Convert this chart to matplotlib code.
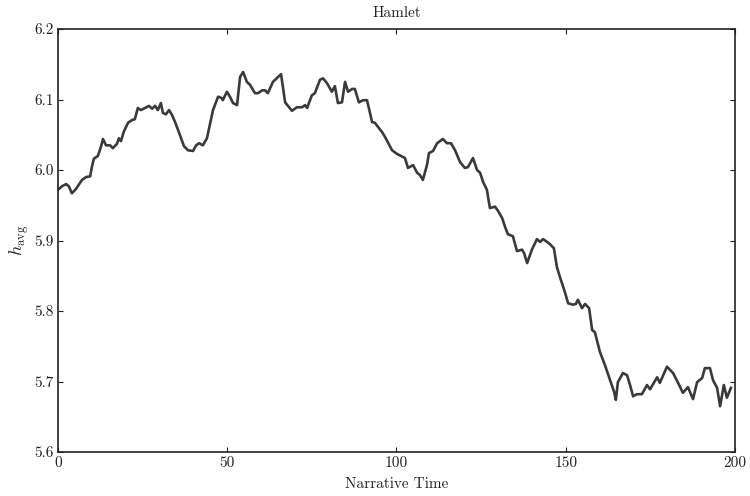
import matplotlib
matplotlib.use("Agg")
import matplotlib.pyplot as plt

plt.rcParams['font.family'] = 'serif'
plt.rcParams['font.serif'] = ['cmr10', 'DejaVu Serif']
plt.rcParams['mathtext.fontset'] = 'cm'
plt.rcParams['axes.formatter.use_mathtext'] = True

title = "Hamlet"
xlabel = "Narrative Time"
ylabel = r"$h_{\rm avg}$"

narrative_time = [
    0, 1.2, 2.4, 3.2, 4.1, 5.3, 7.1, 8.3, 9.5, 10.0, 10.6, 11.8, 12.7, 13.3, 14.2,
    15.4, 16.2, 17.4, 18.0, 18.6, 19.5, 20.7, 21.9, 22.7, 23.6, 24.5, 25.7, 26.9,
    27.8, 28.7, 29.5, 30.4, 31.0, 31.9, 32.8, 33.7, 34.6, 36.0, 37.2, 38.4, 39.9,
    40.8, 41.7, 42.8, 44.0, 45.8, 47.3, 48.4, 48.7, 49.9, 50.8, 51.7, 52.9, 53.8,
    54.7, 55.8, 56.7, 58.2, 59.1, 60.3, 61.2, 62.0, 63.5, 65.0, 65.9, 67.1, 69.1,
    70.6, 72.1, 73.0, 73.6, 75.0, 75.9, 77.4, 78.3, 79.5, 80.9, 81.8, 82.7, 83.9,
    84.8, 85.7, 86.9, 87.7, 88.9, 90.1, 91.3, 92.8, 93.6, 95.7, 96.6, 98.7, 100.1,
    102.5, 103.4, 104.9, 106.1, 106.9, 107.8, 109.0, 109.6, 110.8, 112.0, 113.7,
    114.9, 116.1, 117.3, 118.8, 120.2, 121.1, 122.6, 123.8, 124.7, 125.6, 126.7,
    127.6, 129.1, 130.0, 131.2, 132.1, 132.9, 134.4, 135.6, 137.1, 137.7, 138.6,
    140.0, 141.5, 142.4, 143.3, 144.5, 145.3, 146.5, 147.4, 148.3, 149.8, 150.7,
    152.1, 153.0, 153.6, 154.8, 155.7, 156.9, 157.8, 158.6, 160.1, 161.6, 163.1,
    164.3, 164.8, 165.4, 166.9, 168.1, 169.0, 169.9, 171.0, 172.5, 174.0, 174.9,
    177.0, 177.8, 179.9, 181.7, 183.2, 184.6, 186.1, 187.6, 188.8, 190.3, 191.1,
    192.6, 193.5, 194.7, 195.6, 196.7, 197.6, 198.8,
]

h_avg = [
    5.972, 5.977, 5.980, 5.977, 5.967, 5.973, 5.986, 5.990, 5.991, 6.004, 6.016,
    6.020, 6.033, 6.044, 6.035, 6.035, 6.031, 6.037, 6.045, 6.041, 6.055, 6.067,
    6.071, 6.072, 6.088, 6.085, 6.088, 6.091, 6.087, 6.091, 6.085, 6.095, 6.081,
    6.079, 6.085, 6.078, 6.068, 6.050, 6.034, 6.028, 6.027, 6.035, 6.038, 6.035,
    6.045, 6.085, 6.104, 6.102, 6.099, 6.111, 6.104, 6.095, 6.092, 6.132, 6.139,
    6.125, 6.121, 6.109, 6.109, 6.113, 6.113, 6.109, 6.125, 6.132, 6.136, 6.096,
    6.084, 6.089, 6.089, 6.092, 6.088, 6.106, 6.109, 6.128, 6.130, 6.123, 6.111,
    6.119, 6.095, 6.096, 6.125, 6.111, 6.115, 6.115, 6.096, 6.099, 6.099, 6.068,
    6.067, 6.054, 6.047, 6.028, 6.023, 6.017, 6.003, 6.007, 5.996, 5.993, 5.986,
    6.007, 6.024, 6.027, 6.038, 6.044, 6.038, 6.038, 6.028, 6.011, 6.003, 6.004,
    6.017, 6.000, 5.996, 5.983, 5.972, 5.946, 5.948, 5.942, 5.932, 5.919, 5.909,
    5.906, 5.885, 5.887, 5.882, 5.868, 5.887, 5.902, 5.898, 5.902, 5.898, 5.895,
    5.889, 5.862, 5.848, 5.826, 5.811, 5.809, 5.810, 5.816, 5.804, 5.810, 5.804,
    5.773, 5.770, 5.742, 5.723, 5.702, 5.685, 5.674, 5.699, 5.712, 5.709, 5.695,
    5.679, 5.682, 5.682, 5.695, 5.689, 5.706, 5.698, 5.721, 5.712, 5.698, 5.684,
    5.692, 5.675, 5.699, 5.705, 5.719, 5.719, 5.702, 5.691, 5.665, 5.695, 5.677,
    5.691,
]

x_ticks = [0, 50, 100, 150, 200]
y_ticks = [5.6, 5.7, 5.8, 5.9, 6.0, 6.1, 6.2]
y_tick_labels = ["5.6", "5.7", "5.8", "5.9", "6.0", "6.1", "6.2"]

fig = plt.figure(figsize=(7.5, 4.96), dpi=100)
ax = fig.add_axes([0.0773, 0.0887, 0.9027, 0.8528])

ax.plot(narrative_time, h_avg, color="#3a3a3a", linewidth=1.9)

ax.set_xlim(0, 200)
ax.set_ylim(5.6, 6.2)
ax.set_xticks(x_ticks)
ax.set_xticklabels([str(t) for t in x_ticks])
ax.set_yticks(y_ticks)
ax.set_yticklabels(y_tick_labels)

ax.tick_params(direction="in", length=3.5, width=0.8, top=True, right=True,
               labelsize=11, colors="#222222", pad=3)
for s in ax.spines.values():
    s.set_linewidth(1.2)
    s.set_color("#222222")

ax.set_title(title, fontsize=11, pad=9, color="#222222")
ax.set_xlabel(xlabel, fontsize=11, labelpad=5, color="#222222")
ax.set_ylabel(ylabel, fontsize=13, labelpad=2.5, color="#222222")

fig.savefig("out.png", dpi=100)
